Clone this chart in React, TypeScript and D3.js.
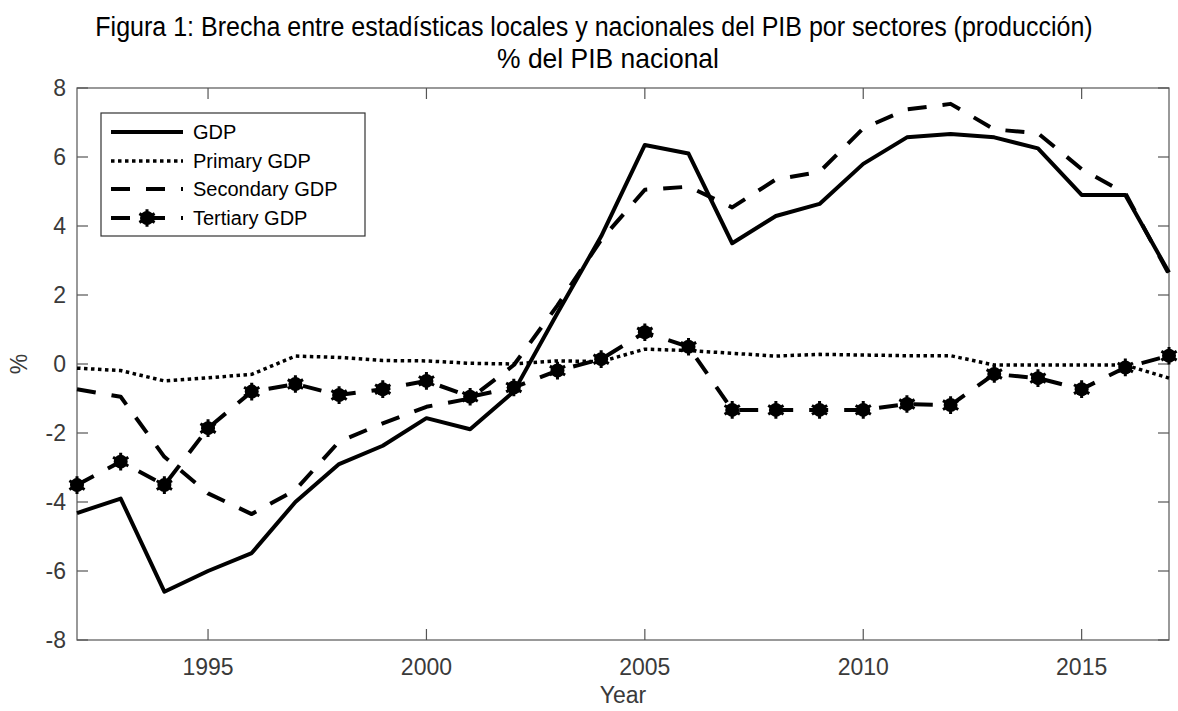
import React, { useEffect, useRef, useState } from "react";
import * as d3 from "d3";

const years = [1992,1993,1994,1995,1996,1997,1998,1999,2000,2001,2002,2003,2004,2005,2006,2007,2008,2009,2010,2011,2012,2013,2014,2015,2016,2017];
const gdp = [-4.32,-3.9,-6.6,-6.0,-5.48,-4.0,-2.9,-2.37,-1.57,-1.89,-0.8,1.48,3.7,6.35,6.1,3.5,4.29,4.64,5.8,6.57,6.67,6.57,6.25,4.9,4.9,2.65];
const primary = [-0.12,-0.19,-0.49,-0.4,-0.3,0.23,0.19,0.1,0.09,0.02,0.0,0.09,0.07,0.43,0.39,0.31,0.23,0.28,0.26,0.24,0.24,-0.03,-0.03,-0.03,-0.03,-0.41];
const secondary = [-0.73,-0.95,-2.69,-3.75,-4.35,-3.65,-2.25,-1.72,-1.24,-1.0,-0.03,1.7,3.6,5.05,5.14,4.54,5.35,5.57,6.83,7.38,7.54,6.8,6.69,5.65,4.95,2.6];
const tertiary = [-3.51,-2.83,-3.51,-1.86,-0.8,-0.58,-0.9,-0.73,-0.49,-0.95,-0.68,-0.19,0.14,0.92,0.5,-1.33,-1.33,-1.33,-1.33,-1.16,-1.19,-0.29,-0.41,-0.73,-0.1,0.24];
const xTicks = [1995, 2000, 2005, 2010, 2015];
const yTicks = [-8, -6, -4, -2, 0, 2, 4, 6, 8];
const legendLabels = ["GDP", "Primary GDP", "Secondary GDP", "Tertiary GDP"];
const titleLine1 = "Figura 1: Brecha entre estadísticas locales y nacionales del PIB por sectores (producción)";
const titleLine2 = "% del PIB nacional";

const W = 1178, H = 711;
const L = 77, R = 1169, T = 88, B = 640;
const axisColor = "#555";
const textColor = "#3a3a3a";
const sansFont = "Liberation Sans, Arial, Helvetica, sans-serif";
const narrowFont = "Liberation Sans Narrow, Arial Narrow, Liberation Sans, sans-serif";

const styles = [
  { dash: undefined as string | undefined, width: 4, marker: false },
  { dash: "3.5,3.5", width: 3.5, marker: false },
  { dash: "19,16", width: 4, marker: false },
  { dash: "19,16", width: 4, marker: true },
];

function Marker({ x, y }: { x: number; y: number }) {
  const star = d3.symbol().type(d3.symbolAsterisk).size(220)();
  return (
    <g transform={`translate(${x},${y})`}>
      <circle r={7} fill="#000" />
      <path d={star || ""} stroke="#000" strokeWidth={3} fill="none" />
    </g>
  );
}

function FitText({ cx, y, width, text }: { cx: number; y: number; width: number; text: string }) {
  const ref = useRef<SVGTextElement>(null);
  const [sx, setSx] = useState(1);
  useEffect(() => {
    if (ref.current) {
      const len = ref.current.getComputedTextLength();
      if (len > 0) setSx(width / len);
    }
  }, [width, text]);
  return (
    <g transform={`translate(${cx},${y}) scale(${sx},1)`}>
      <text ref={ref} x={0} y={0} textAnchor="middle" fontFamily={narrowFont} fontSize={28} fill="#000">{text}</text>
    </g>
  );
}

export default function App() {
  const x = d3.scaleLinear().domain([1992, 2017]).range([L, R]);
  const y = d3.scaleLinear().domain([-8, 8]).range([B, T]);
  const line = d3.line<number>().x((_, i) => x(years[i])).y((d) => y(d));
  const series = [gdp, primary, secondary, tertiary];

  const legX = 101, legY = 113, legW = 264, legH = 123;
  const rowYs = [132, 161, 189, 218];

  return (
    <svg width={W} height={H} style={{ position: "absolute", left: 0, top: 0, background: "#fff" }}>
      <rect x={0} y={0} width={W} height={H} fill="#fff" />
      <FitText cx={594} y={36} width={998} text={titleLine1} />
      <FitText cx={608} y={68} width={222} text={titleLine2} />

      {/* axes box */}
      <rect x={L} y={T} width={R - L} height={B - T} fill="none" stroke={axisColor} strokeWidth={1.2} />
      {xTicks.map((t) => (
        <g key={"xt" + t}>
          <line x1={x(t)} x2={x(t)} y1={B} y2={B - 11} stroke={axisColor} strokeWidth={1.2} />
          <line x1={x(t)} x2={x(t)} y1={T} y2={T + 11} stroke={axisColor} strokeWidth={1.2} />
          <text x={x(t)} y={675} textAnchor="middle" fontFamily={sansFont} fontSize={23} fill={textColor}>{t}</text>
        </g>
      ))}
      {yTicks.map((t) => (
        <g key={"yt" + t}>
          <line x1={L} x2={L + 11} y1={y(t)} y2={y(t)} stroke={axisColor} strokeWidth={1.2} />
          <line x1={R} x2={R - 11} y1={y(t)} y2={y(t)} stroke={axisColor} strokeWidth={1.2} />
          <text x={66} y={y(t) + 8} textAnchor="end" fontFamily={sansFont} fontSize={23} fill={textColor}>{t}</text>
        </g>
      ))}
      <text x={623} y={703} textAnchor="middle" fontFamily={sansFont} fontSize={23} fill={textColor}>Year</text>
      <text transform={`translate(27,${(T + B) / 2}) rotate(-90)`} textAnchor="middle" fontFamily={sansFont} fontSize={23} fill={textColor}>%</text>

      <g>
        {series.map((s, k) => (
          <path key={"s" + k} d={line(s) || ""} fill="none" stroke="#000" strokeWidth={styles[k].width}
            strokeDasharray={styles[k].dash} strokeLinejoin="round" />
        ))}
        {tertiary.map((v, i) => (
          <Marker key={"m" + i} x={x(years[i])} y={y(v)} />
        ))}
      </g>

      {/* legend */}
      <rect x={legX} y={legY} width={legW} height={legH} fill="#fff" stroke="#333" strokeWidth={1.2} />
      {legendLabels.map((lab, k) => (
        <g key={"lg" + k}>
          <line x1={111} x2={183} y1={rowYs[k]} y2={rowYs[k]} stroke="#000" strokeWidth={styles[k].width}
            strokeDasharray={styles[k].dash} />
          {styles[k].marker && <Marker x={147} y={rowYs[k]} />}
          <text x={193} y={rowYs[k] + 7} fontFamily={sansFont} fontSize={20} fill="#000">{lab}</text>
        </g>
      ))}
    </svg>
  );
}
